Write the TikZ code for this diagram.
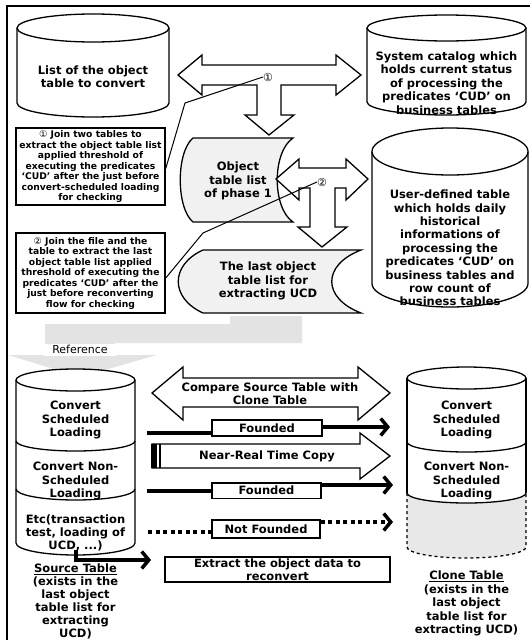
\documentclass[tikz,border=0pt]{standalone}
\usepackage{fontspec}
\setmainfont{DejaVu Sans}
\usetikzlibrary{arrows.meta}
\definecolor{shapegray}{RGB}{241,241,241}
\definecolor{refgray}{RGB}{227,227,227}
\definecolor{clonegray}{RGB}{232,232,232}
\newcommand\cone{{\mdseries ①}}
\newcommand\ctwo{{\mdseries ②}}
\begin{document}
\begin{tikzpicture}[x=1pt,y=-1pt,
  every node/.style={inner sep=0pt},
  big/.style={font=\fontsize{11.5}{13.4}\selectfont\bfseries, align=center},
  small/.style={font=\fontsize{9.2}{10.5}\selectfont\bfseries, align=center},
  cylline/.style={line width=1.3pt},
  boxline/.style={draw, line width=1.5pt, fill=white},
  hollow/.style={draw, line width=1.3pt, fill=white, line join=miter},
  thickarr/.style={line width=3.5pt, -{Straight Barb[length=7pt,width=17pt]}},
  dotline/.style={line width=3.5pt, dash pattern=on 4pt off 3.5pt},
  callout/.style={line width=1pt}
]
\useasboundingbox (0,0) rectangle (530,640);

% ---- gray reference arrow
\fill[refgray] (230,316) -- (302,316) -- (302,343) -- (115,343) -- (115,355) -- (157,355)
  -- (80,377) -- (8,355) -- (45,355) -- (45,324) -- (230,324) -- cycle;
\node[font=\fontsize{11}{13}\selectfont, fill=white, minimum width=72pt, minimum height=12pt] (ref) at (80,349.5) {Reference};

% ---- cylinder: list of the object table
\draw[cylline] (17,28) -- (17,103) arc[start angle=180,end angle=360,x radius=76pt,y radius=14pt] -- (169,28);
\draw[cylline, fill=white] (93,28) ellipse[x radius=76pt, y radius=14pt];
% ---- cylinder: system catalog
\draw[cylline] (367,28) -- (367,102) arc[start angle=180,end angle=360,x radius=79.5pt,y radius=13pt] -- (526,28);
\draw[cylline, fill=white] (446.5,28) ellipse[x radius=79.5pt, y radius=13pt];
% ---- cylinder: user-defined table
\draw[cylline] (372,151.5) -- (372,283.5) arc[start angle=180,end angle=360,x radius=78pt,y radius=23.5pt] -- (528,151.5);
\draw[cylline, fill=white] (450,151.5) ellipse[x radius=78pt, y radius=23.5pt];

% ---- stored data shapes
\draw[cylline, fill=shapegray] (193,138) -- (293,138) .. controls (272,152) and (272,208) .. (293,222)
  -- (193,222) .. controls (176,208) and (176,152) .. (193,138) -- cycle;
\draw[cylline, fill=shapegray] (203,250) -- (361,250) .. controls (322,265) and (322,298) .. (361,313)
  -- (203,313) .. controls (170,298) and (170,265) .. (203,250) -- cycle;

% ---- double arrow 1
\draw[hollow] (178,75) -- (202,55) -- (202,65) -- (336,65) -- (336,55) -- (361,75) -- (336,95) -- (336,85)
  -- (281,85) -- (281,115) -- (294,115) -- (269,135) -- (245,115) -- (257,115) -- (257,85)
  -- (202,85) -- (202,95) -- cycle;
% ---- double arrow 2
\draw[hollow] (276,179) -- (299,159) -- (299,168) -- (346,168) -- (346,159) -- (368,179) -- (346,200) -- (346,188)
  -- (335,188) -- (335,227) -- (347,227) -- (322,247) -- (298,227) -- (310,227) -- (310,188)
  -- (299,188) -- (299,200) -- cycle;

% ---- source table cylinder
\draw[cylline] (16,380) -- (16,543) arc[start angle=180,end angle=360,x radius=59.5pt,y radius=12pt] -- (135,380);
\draw[cylline] (16,441) arc[start angle=180,end angle=360,x radius=59.5pt,y radius=10pt];
\draw[cylline] (16,489) arc[start angle=180,end angle=360,x radius=59.5pt,y radius=11pt];
\draw[cylline, fill=white] (75.5,380) ellipse[x radius=59.5pt, y radius=11pt];

% ---- clone table cylinder
\fill[clonegray] (407,493) arc[start angle=180,end angle=360,x radius=59.5pt,y radius=10pt]
  -- (526,547) arc[start angle=0,end angle=-180,x radius=59.5pt,y radius=11pt] -- cycle;
\draw[cylline, dashed] (407,493) -- (407,547) arc[start angle=180,end angle=360,x radius=59.5pt,y radius=11pt] -- (526,493);
\draw[cylline] (407,378) -- (407,493) (526,378) -- (526,493);
\draw[cylline] (407,442) arc[start angle=180,end angle=360,x radius=59.5pt,y radius=10pt];
\draw[cylline] (407,493) arc[start angle=180,end angle=360,x radius=59.5pt,y radius=10pt];
\draw[cylline, fill=white] (466.5,378) ellipse[x radius=59.5pt, y radius=11pt];

% ---- compare arrow
\draw[hollow] (152,393) -- (183,367) -- (183,378) -- (358,378) -- (358,367) -- (390,393) -- (358,420)
  -- (358,407) -- (183,407) -- (183,420) -- cycle;
\node[big] (cmp) at (270,393.5) {Compare Source Table with\\Clone Table};

% ---- near-real time copy arrow
\draw[hollow] (152,444) -- (360,444) -- (360,433) -- (390,456) -- (360,479) -- (360,468) -- (152,468) -- cycle;
\fill[black] (150.5,444) rectangle (156.5,468);
\draw[line width=2.3pt] (160,444) -- (160,468);
\node[big] (nrt) at (267,456) {Near-Real Time Copy};

% ---- founded / not founded boxes
\node[boxline, big, minimum width=110pt, minimum height=16pt] (f1) at (267,428) {Founded};
\node[boxline, big, minimum width=109pt, minimum height=15.5pt] (f2) at (266.5,490.5) {Founded};
\node[boxline, big, minimum width=108pt, minimum height=18pt] (nf) at (266,529) {Not Founded};
\node[boxline, big, minimum width=225pt, minimum height=25pt] (ex) at (277.5,569.5) {Extract the object data to\\reconvert};

\coordinate (a1) at (147,433);
\coordinate (a2) at (390,427);
\coordinate (a3) at (147,491);
\coordinate (a4) at (393,485);
\coordinate (a5) at (148,532);
\coordinate (a6) at (393,522);
\coordinate (srcbot) at (76,550);
\coordinate (exin) at (151,560);
\draw[line width=3.5pt] (a1) -- (a1 -| f1.west);
\draw[thickarr] (a2 -| f1.east) -- (a2);
\draw[line width=3.5pt] (a3) -- (a3 -| f2.west);
\draw[thickarr] (a4 -| f2.east) -- (a4);
\draw[dotline] (a5) -- (a5 -| nf.west);
\draw[dotline, -{Straight Barb[length=7pt,width=17pt]}] (a6 -| nf.east) -- (a6);
\draw[thickarr] (srcbot) |- (exin);

% ---- text boxes
\node[boxline, small, minimum width=149pt, minimum height=77pt] (b1) at (90.5,166.5)
  {\cone{} Join two tables to\\extract the object table list\\applied threshold of\\executing the predicates\\‘CUD’ after the just before\\convert-scheduled loading\\for checking};
\node[boxline, small, minimum width=149pt, minimum height=80pt] (b2) at (90.5,273)
  {\ctwo{} Join the file and the\\table to extract the last\\object table list applied\\threshold of executing the\\predicates ‘CUD’ after the\\just before reconverting\\flow for checking};

% ---- callouts
\node[font=\fontsize{11}{11}\selectfont] (n1) at (268,77) {①};
\node[font=\fontsize{11}{11}\selectfont] (n2) at (322,182) {②};
\coordinate (k1) at (185,103);
\coordinate (k2) at (203,233);
\draw[callout] (n1.west) -- (k1) -- ([yshift=-2pt]b1.east);
\draw[callout] (n2.west) -- (k2) -- ([yshift=-5pt]b2.east);

% ---- texts
\node[big] (tl) at (93,77) {List of the object\\table to convert};
\node[big] (tsc) at (446.5,83) {System catalog which\\holds current status\\of processing the\\predicates ‘CUD’ on\\business tables};
\node[big] (tud) at (450,248) {User-defined table\\which holds daily\\historical\\informations of\\processing the\\predicates ‘CUD’ on\\business tables and\\row count of\\business tables};
\node[big] (tob) at (238,181) {Object\\table list\\of phase 1};
\node[big] (tla) at (268,281) {The last object\\table list for\\extracting UCD};

\node[big] (s1t) at (75.5,420) {Convert\\Scheduled\\Loading};
\node[big] (s2t) at (75.5,481) {Convert Non-\\Scheduled\\Loading};
\node[big] (s3t) at (75.5,533) {Etc(transaction\\test, loading of\\UCD, ...)};
\node[big, font=\fontsize{11.5}{13.1}\selectfont\bfseries] (srccap) at (75.5,601.5) {\underline{Source Table}\\(exists in the\\last object\\table list for\\extracting\\UCD)};

\node[big] (c1t) at (466.5,420) {Convert\\Scheduled\\Loading};
\node[big] (c2t) at (466.5,481) {Convert Non-\\Scheduled\\Loading};
\node[big] (clcap) at (466.5,603.5) {\underline{Clone Table}\\(exists in the\\last object\\table list for\\extracting UCD)};

% ---- frame
\draw[line width=1.3pt] (7,641) -- (7,6) -- (531,6);
\end{tikzpicture}
\end{document}
